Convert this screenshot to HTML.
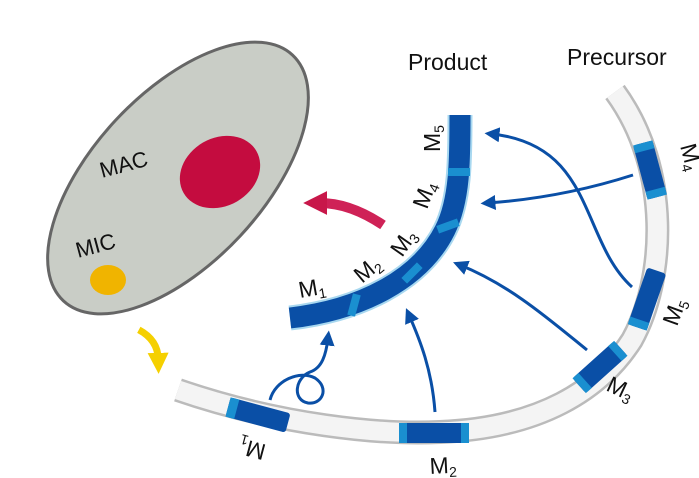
<!DOCTYPE html>
<html><head><meta charset="utf-8"><style>
html,body{margin:0;padding:0;background:#fff;width:699px;height:478px;overflow:hidden}
text{font-family:"Liberation Sans",sans-serif;fill:#111}
</style></head><body>
<svg width="699" height="478" viewBox="0 0 699 478" xmlns="http://www.w3.org/2000/svg">
<defs>
<marker id="ab" viewBox="0 0 10 10" refX="5" refY="5" markerWidth="5" markerHeight="5" orient="auto-start-reverse" markerUnits="strokeWidth"><path d="M0,0 L10,5 L0,10 z" fill="#0a4fa6"/></marker>
<marker id="ar" viewBox="0 0 10 10" refX="3" refY="5" markerWidth="2.4" markerHeight="2.4" orient="auto" markerUnits="strokeWidth"><path d="M0,0 L10,5 L0,10 z" fill="#c8174a"/></marker>
<marker id="ay" viewBox="0 0 10 10" refX="3" refY="5" markerWidth="3" markerHeight="3" orient="auto" markerUnits="strokeWidth"><path d="M0,0 L10,5 L0,10 z" fill="#f5d000"/></marker>
</defs>
<!-- cell -->
<ellipse cx="178" cy="178" rx="168" ry="85" transform="rotate(-47 178 178)" fill="#c9cdc6" stroke="#666" stroke-width="3"/>
<ellipse cx="220" cy="172" rx="42" ry="34" transform="rotate(-30 220 172)" fill="#c40c3f"/>
<ellipse cx="108" cy="280" rx="18" ry="15" fill="#f0b400"/>
<text x="102" y="178" font-size="22" transform="rotate(-15 102 178)">MAC</text>
<text x="78" y="258" font-size="22" transform="rotate(-15 78 258)">MIC</text>
<!-- yellow arrow -->
<path d="M148,325 Q156,345 144,360" fill="none" stroke="#f5d000" stroke-width="7" marker-end="url(#ay)" transform="rotate(-40 150 340)"/>
<!-- red arrow -->
<path d="M383,225 Q350,203 320,203" fill="none" stroke="#cf2257" stroke-width="10" marker-end="url(#ar)"/>
<!-- precursor tube -->
<path d="M178,390 C280,425 380,435 440,432 C540,428 600,390 632,340 C665,280 672,170 615,92" fill="none" stroke="#bbb" stroke-width="24"/>
<path d="M178,390 C280,425 380,435 440,432 C540,428 600,390 632,340 C665,280 672,170 615,92" fill="none" stroke="#f4f4f4" stroke-width="19"/>
<g fill="#0a4fa6">
<rect x="-31" y="-10" width="62" height="20" rx="3" transform="translate(258,415) rotate(15)"/>
<rect x="-35" y="-10" width="70" height="20" rx="3" transform="translate(434,433)"/>
<rect x="-28" y="-10" width="56" height="20" rx="3" transform="translate(600,367) rotate(-42)"/>
<rect x="-30" y="-10" width="60" height="20" rx="3" transform="translate(647,299) rotate(-71)"/>
<rect x="-28" y="-10" width="56" height="20" rx="3" transform="translate(650,170) rotate(75)"/>
</g>
<g fill="#1a8fd0">
<rect x="-31" y="-10" width="9" height="20" transform="translate(258,415) rotate(15)"/>
<rect x="-35" y="-10" width="8" height="20" transform="translate(434,433)"/>
<rect x="27" y="-10" width="8" height="20" transform="translate(434,433)"/>
<rect x="-28" y="-10" width="8" height="20" transform="translate(600,367) rotate(-42)"/>
<rect x="20" y="-10" width="8" height="20" transform="translate(600,367) rotate(-42)"/>
<rect x="-30" y="-10" width="8" height="20" transform="translate(647,299) rotate(-71)"/>
<rect x="-28" y="-10" width="8" height="20" transform="translate(650,170) rotate(75)"/>
<rect x="20" y="-10" width="8" height="20" transform="translate(650,170) rotate(75)"/>
</g>
<!-- product tube -->
<path d="M290,318 C360,310 420,280 445,230 C460,200 460,160 460,115" fill="none" stroke="#a8d8f0" stroke-width="25"/>
<path d="M290,318 C360,310 420,280 445,230 C460,200 460,160 460,115" fill="none" stroke="#0a4fa6" stroke-width="21"/>
<g fill="#1a8fd0">
<rect x="-11" y="-4" width="22" height="8" transform="translate(459,172)"/>
<rect x="-11" y="-4" width="22" height="8" transform="translate(448,226) rotate(-20)"/>
<rect x="-11" y="-4" width="22" height="8" transform="translate(412,273) rotate(-45)"/>
<rect x="-11" y="-4" width="22" height="8" transform="translate(354,305) rotate(-75)"/>
</g>
<!-- blue arrows -->
<g fill="none" stroke="#0a4fa6" stroke-width="3">
<path d="M270,400 C275,380 300,370 315,378 C330,388 322,405 308,403 C292,400 295,378 310,372 C322,368 326,355 328,338" marker-end="url(#ab)"/>
<path d="M435,412 C432,370 420,340 409,315" marker-end="url(#ab)"/>
<path d="M587,350 C550,320 510,285 460,265" marker-end="url(#ab)"/>
<path d="M632,287 C580,240 595,145 492,134" marker-end="url(#ab)"/>
<path d="M633,175 C580,192 530,200 488,203" marker-end="url(#ab)"/>
</g>
<!-- labels -->
<text x="408" y="70" font-size="23">Product</text>
<text x="567" y="65" font-size="23">Precursor</text>
<g font-size="23">
<text transform="translate(300,298) rotate(-10)">M<tspan font-size="14" dy="4">1</tspan></text>
<text transform="translate(362,284) rotate(-40)">M<tspan font-size="14" dy="4">2</tspan></text>
<text transform="translate(402,258) rotate(-55)">M<tspan font-size="14" dy="4">3</tspan></text>
<text transform="translate(427,210) rotate(-70)">M<tspan font-size="14" dy="4">4</tspan></text>
<text transform="translate(440,152) rotate(-90)">M<tspan font-size="14" dy="4">5</tspan></text>
<text transform="translate(267,445) rotate(195)">M<tspan font-size="14" dy="4">1</tspan></text>
<text transform="translate(430,474) rotate(-3)">M<tspan font-size="14" dy="4">2</tspan></text>
<text transform="translate(605,390) rotate(25)">M<tspan font-size="14" dy="4">3</tspan></text>
<text transform="translate(677,327) rotate(-70)">M<tspan font-size="14" dy="4">5</tspan></text>
<text transform="translate(680,146) rotate(75)">M<tspan font-size="14" dy="4">4</tspan></text>
</g>
</svg>
</body></html>
